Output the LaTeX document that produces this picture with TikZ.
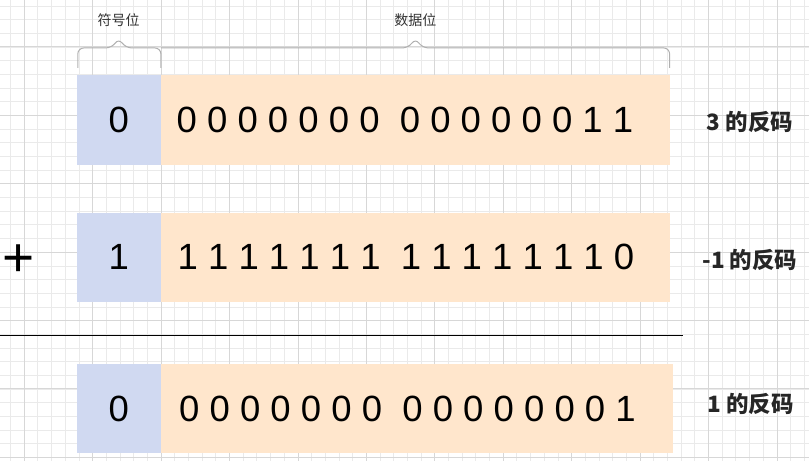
\documentclass[tikz,border=0pt]{standalone}
\usepackage{fontspec}
\setmainfont{Liberation Sans}
\newfontfamily\cjk{Noto Sans CJK SC}
\usepackage{xcolor}
\definecolor{signblue}{HTML}{D0D9F1}
\definecolor{dataorange}{HTML}{FFE6CC}
\definecolor{gridminor}{HTML}{EAEAEA}
\definecolor{gridmajor}{HTML}{D7D7D7}
\definecolor{bracegray}{HTML}{B0B0B0}
\usetikzlibrary{positioning}

\begin{document}
\begin{tikzpicture}[x=1pt, y=-1pt,
  signbox/.style={fill=signblue, minimum width=84pt, minimum height=89.5pt, inner sep=0pt, font=\fontsize{36.5}{36.5}\selectfont},
  databox/.style={fill=dataorange, minimum height=89.5pt, inner sep=0pt, anchor=west},
  bits/.style={inner sep=0pt, font=\fontsize{36.5}{36.5}\selectfont},
  codelabel/.style={font=\cjk\bfseries\fontsize{22.5}{22.5}\selectfont, text=black!85},
  bracelabel/.style={font=\cjk\fontsize{14}{14}\selectfont, text=black!80},
  bracepath/.style={draw=bracegray, line width=1pt, rounded corners=6pt}]
  \useasboundingbox (0,0) rectangle (809,461);
  % background grid
  \foreach \i in {0,...,58} \draw[gridminor, line width=1pt] ({10.6+13.686*\i},0) -- ++(0,461);
  \foreach \i in {0,...,33} \draw[gridminor, line width=1pt] (0,{6+13.686*\i}) -- ++(809,0);
  \foreach \i in {0,...,11} \draw[gridmajor, line width=1pt] ({24.3+68.43*\i},0) -- ++(0,461);
  \foreach \i in {0,...,6} \draw[gridmajor, line width=1pt] (0,{46.8+68.43*\i}) -- ++(809,0);

  % row 1: 3
  \node[signbox] (sign1) at (118.7,120.2) {0};
  \node[databox, minimum width=508.6pt] (data1) at (sign1.east) {};
  \node[bits] (bits1) at (405,120.2) {0 0 0 0 0 0 0\ \ 0 0 0 0 0 0 1 1};
  \node[codelabel] (code1) at (750,122) {3 的反码};

  % row 2: -1
  \node[signbox] (sign2) at (118.7,257.4) {1};
  \node[databox, minimum width=508.6pt] (data2) at (sign2.east) {};
  \node[bits] (bits2) at (406,257.4) {1 1 1 1 1 1 1\ \ 1 1 1 1 1 1 1 0};
  \node[codelabel] (code2) at (750,260) {-1 的反码};
  \node[font=\fontsize{55}{55}\selectfont] (plus) at (18.7,261) {+};

  % sum line
  \draw[line width=1pt] (0,335) -- (683,335);

  % row 3: result
  \node[signbox] (sign3) at (118.7,408.7) {0};
  \node[databox, minimum width=512pt] (data3) at (sign3.east) {};
  \node[bits] (bits3) at (407.5,408.7) {0 0 0 0 0 0 0\ \ 0 0 0 0 0 0 0 1};
  \node[codelabel] (code3) at (750.5,404) {1 的反码};

  % braces above row 1
  \draw[bracepath] ([xshift=1.3pt,yshift=7.3pt]sign1.north west) -- ([xshift=1.3pt,yshift=27.3pt]sign1.north west)
    -- ([xshift=-7pt,yshift=27.3pt]sign1.north) -- ([yshift=37pt]sign1.north)
    -- ([xshift=7pt,yshift=27.3pt]sign1.north) -- ([yshift=27.3pt]sign1.north east) -- ([yshift=7.3pt]sign1.north east);
  \draw[bracepath] ([xshift=0.3pt,yshift=27.3pt]data1.north west)
    -- ([xshift=-7pt,yshift=27.3pt]data1.north) -- ([yshift=37pt]data1.north)
    -- ([xshift=7pt,yshift=27.3pt]data1.north) -- ([xshift=-0.3pt,yshift=27.3pt]data1.north east) -- ([xshift=-0.3pt,yshift=7.3pt]data1.north east);
  \node[bracelabel] (signlabel) at ([yshift=55pt]sign1.north) {符号位};
  \node[bracelabel] (datalabel) at ([yshift=55pt]data1.north) {数据位};
\end{tikzpicture}
\end{document}
